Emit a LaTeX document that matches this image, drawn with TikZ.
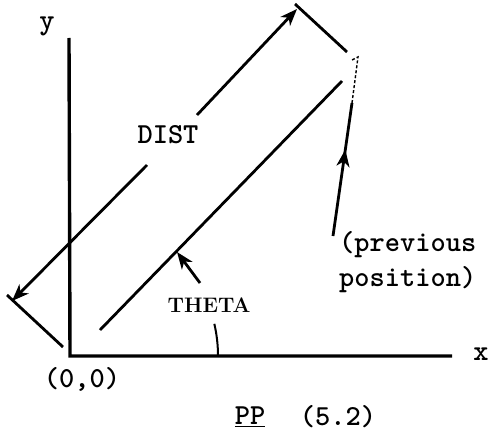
\documentclass[tikz,border=0pt]{standalone}
\usetikzlibrary{arrows.meta, positioning, decorations.markings}

\begin{document}
\begin{tikzpicture}[
    x=1pt, y=-1pt,
    axis/.style={line width=3.4pt},
    line/.style={line width=2.8pt},
    arrow/.style={line width=2.8pt, -{Stealth[length=17pt, width=13pt, inset=5pt]}},
    midarrow/.style={postaction={decorate}, decoration={markings,
        mark=at position #1 with {\arrow{Stealth[length=17pt, width=13pt, inset=5pt]}}}},
    label/.style={font=\fontsize{29}{35}\selectfont\ttfamily\bfseries, inner sep=0pt},
    thetalabel/.style={font=\fontsize{21}{26}\selectfont\bfseries, inner sep=0pt}
]
\useasboundingbox (0,0) rectangle (490,433);

% axes
\coordinate (origin) at (70,356);
\coordinate (ytop) at (69,38);
\coordinate (xend) at (452,356);
\draw[axis] (ytop) -- (origin) -- (xend);
\node[label] (ylab) at (47,26) {y};
\node[label] (xlab) at (481,354) {x};
\node[label] (orig) at (82,379) {(0,0)};

% DIST dimension line
\node[label] (dist) at (168,135) {DIST};
\coordinate (gapa) at (197,115);
\coordinate (gapb) at (147,165);
\coordinate (dtop) at (297,9);
\coordinate (dbot) at (12,301);
\draw[arrow] (gapa) -- (dtop);
\draw[arrow] (gapb) -- (dbot);
\coordinate (ttopa) at (295,4);
\coordinate (ttopb) at (347,52);
\coordinate (tbota) at (7,295);
\coordinate (tbotb) at (63,347);
\draw[line] (ttopa) -- (ttopb);
\draw[line] (tbota) -- (tbotb);

% heading line
\coordinate (posa) at (100,330);
\coordinate (posb) at (342,81);
\draw[line] (posa) -- (posb);

% THETA
\node[thetalabel] (theta) at (209,305) {THETA};
\coordinate (thtail) at (200,283);
\coordinate (thtip) at (177,252);
\draw[arrow] (thtail) -- (thtip);
\draw[line width=2pt] (218,356) arc[start angle=0, end angle=-13, radius=143];

% previous position
\coordinate (pvlow) at (333,236);
\coordinate (pvmid) at (352,103);
\coordinate (pvtop) at (358,57);
\draw[line, midarrow=0.65] (pvlow) -- (pvmid);
\draw[line width=1.4pt, dash pattern=on 3pt off 2pt] (pvmid) -- (pvtop) -- ++(-6,3);
\node[label, align=left, anchor=north west] (prev) at (339,231) {(previous\\ position)};

% caption
\node[label] (capname) at (250,417) {\underline{PP}};
\node[label] (capnum) at (338,417) {(5.2)};
\end{tikzpicture}
\end{document}
